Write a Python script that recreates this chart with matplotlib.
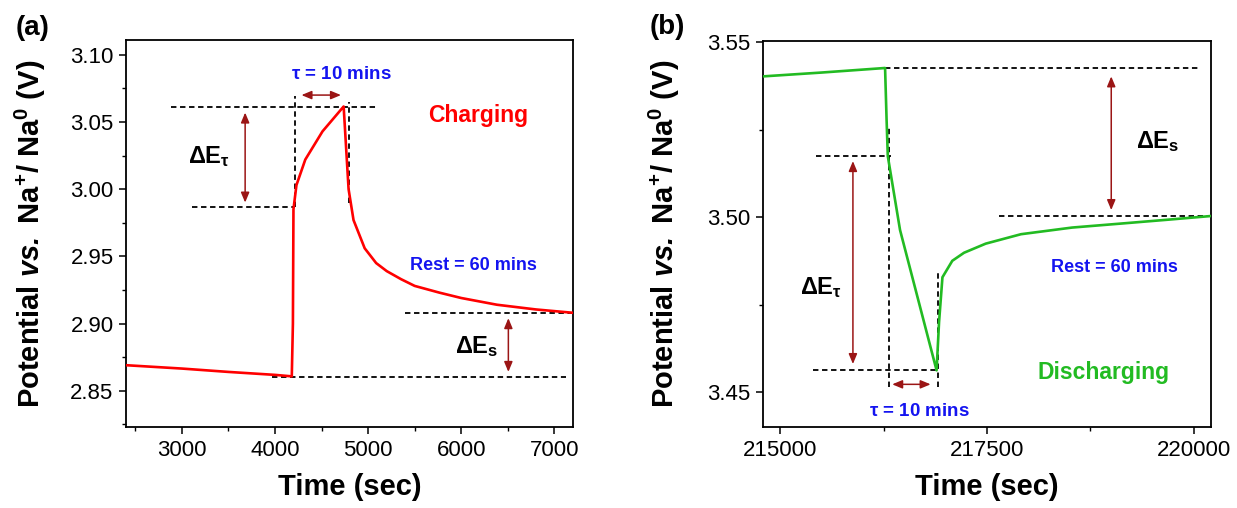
import matplotlib
matplotlib.use("Agg")
import matplotlib.pyplot as plt
from matplotlib.ticker import MultipleLocator, FormatStrFormatter

plt.rcParams['font.family'] = ['Liberation Sans', 'DejaVu Sans']
plt.rcParams['mathtext.fontset'] = 'custom'
plt.rcParams['mathtext.rm'] = 'Liberation Sans:bold'
plt.rcParams['mathtext.bf'] = 'Liberation Sans:bold'
plt.rcParams['mathtext.it'] = 'Liberation Sans:bold:italic'
plt.rcParams['mathtext.bfit'] = 'Liberation Sans:bold:italic'
plt.rcParams['mathtext.default'] = 'bf'

# ---------------- data: panel (a) charging ----------------
a_time = [2400, 3000, 3500, 4000, 4180, 4192, 4198, 4230, 4325, 4510, 4737,
          4790, 4843, 4963, 5086, 5200, 5354, 5500, 5765, 6000, 6383, 6800, 7200]
a_volt = [2.869, 2.8665, 2.864, 2.8618, 2.8607, 2.900, 2.985, 3.003, 3.022, 3.043, 3.0615,
          3.000, 2.977, 2.956, 2.945, 2.939, 2.933, 2.928, 2.923, 2.919, 2.914, 2.9105, 2.908]

# guide lines (a): (x0, x1, y) horizontal ; (x, y0, y1) vertical
a_hlines = [(2885, 5107, 3.0615), (3111, 4200, 2.987), (5395, 7200, 2.908), (3963, 7123, 2.8605)]
a_vlines = [(4210, 2.987, 3.069), (4790, 2.990, 3.065)]
# arrows (a): (x0, y0, x1, y1)
a_arrows = [(3679, 3.057, 3679, 2.990), (4284, 3.070, 4708, 3.070), (6506, 2.904, 6506, 2.864)]

# ---------------- data: panel (b) discharging ----------------
b_time = [214790, 215500, 216267, 216285, 216300, 216448, 216890, 216920, 216961, 217080,
          217222, 217484, 217911, 218529, 219100, 219715, 220210]
b_volt = [3.5402, 3.5413, 3.5426, 3.528, 3.5174, 3.4963, 3.4562, 3.470, 3.4828, 3.4875,
          3.4898, 3.4924, 3.4951, 3.4970, 3.4981, 3.4993, 3.5003]

b_hlines = [(216267, 220070, 3.5426), (217645, 220210, 3.5003), (215436, 216343, 3.5174), (215400, 216890, 3.4564)]
b_vlines = [(216310, 3.4514, 3.526), (216904, 3.4514, 3.4842)]
b_arrows = [(215878, 3.516, 215878, 3.458), (216353, 3.4522, 216818, 3.4522), (219003, 3.5402, 219003, 3.502)]

RED = '#FF0000'
GREEN = '#22BB22'
BLUE = '#1414F0'
ARROW = '#9B1515'

fig = plt.figure(figsize=(12.37, 5.08), dpi=100)
axa = fig.add_axes([0.1019, 0.1594, 0.3613, 0.7619])
axb = fig.add_axes([0.6168, 0.1594, 0.3622, 0.7598])

ylab = r'Potential $\mathbfit{vs.}$ Na$^{+}$/ Na$^{0}$ (V)'


def style(ax):
    for s in ax.spines.values():
        s.set_linewidth(1.3)
    ax.tick_params(which='major', direction='out', length=5, width=1.1, labelsize=16, pad=4)
    ax.tick_params(which='minor', direction='out', length=3, width=1.0)
    ax.set_xlabel('Time (sec)', fontsize=21, fontweight='bold', va='center')
    ax.set_ylabel(ylab, fontsize=21, fontweight='bold', va='center', ha='center')


def guides(ax, hl, vl, ar):
    for x0, x1, y in hl:
        ax.plot([x0, x1], [y, y], color='black', lw=1.3, ls=(0, (3, 2)), zorder=2)
    for x, y0, y1 in vl:
        ax.plot([x, x], [y0, y1], color='black', lw=1.3, ls=(0, (3, 2)), zorder=2)
    for x0, y0, x1, y1 in ar:
        ax.annotate('', xy=(x1, y1), xytext=(x0, y0),
                    arrowprops=dict(arrowstyle='<|-|>,head_length=0.6,head_width=0.25',
                                    color=ARROW, lw=1.1, shrinkA=0, shrinkB=0))


# ---- panel (a)
style(axa)
axa.plot(a_time, a_volt, color=RED, lw=1.9, zorder=3)
guides(axa, a_hlines, a_vlines, a_arrows)
axa.set_xlim(2400, 7200)
axa.set_ylim(2.823, 3.111)
axa.xaxis.set_major_locator(MultipleLocator(1000))
axa.xaxis.set_minor_locator(MultipleLocator(500))
axa.yaxis.set_major_locator(MultipleLocator(0.05))
axa.yaxis.set_minor_locator(MultipleLocator(0.025))
axa.yaxis.set_major_formatter(FormatStrFormatter('%.2f'))
axa.xaxis.set_label_coords(0.5, -0.155)
axa.yaxis.set_label_coords(-0.215, 0.5)
axa.text(4710, 3.085, r'$\tau$ = 10 mins', color=BLUE, fontsize=13.5, fontweight='bold', ha='center', va='center')
axa.text(6183, 3.0546, 'Charging', color=RED, fontsize=16.5, fontweight='bold', ha='center', va='center')
axa.text(6136, 2.943, 'Rest = 60 mins', color=BLUE, fontsize=13, fontweight='bold', ha='center', va='center')
axa.text(3296, 3.024, r'$\Delta E_{\tau}$', color='black', fontsize=17, ha='center', va='center')
axa.text(6168, 2.883, r'$\Delta E_{s}$', color='black', fontsize=17, ha='center', va='center')

# ---- panel (b)
style(axb)
axb.plot(b_time, b_volt, color=GREEN, lw=1.9, zorder=3)
guides(axb, b_hlines, b_vlines, b_arrows)
axb.set_xlim(214790, 220210)
axb.set_ylim(3.44, 3.5503)
axb.set_xticks([215000, 217500, 220000])
axb.xaxis.set_minor_locator(MultipleLocator(1250))
axb.yaxis.set_major_locator(MultipleLocator(0.05))
axb.yaxis.set_minor_locator(MultipleLocator(0.025))
axb.yaxis.set_major_formatter(FormatStrFormatter('%.2f'))
axb.xaxis.set_label_coords(0.5, -0.155)
axb.yaxis.set_label_coords(-0.219, 0.5)
axb.text(216676, 3.4445, r'$\tau$ = 10 mins', color=BLUE, fontsize=13.5, fontweight='bold', ha='center', va='center')
axb.text(218910, 3.4555, 'Discharging', color=GREEN, fontsize=16.5, fontweight='bold', ha='center', va='center')
axb.text(219036, 3.4856, 'Rest = 60 mins', color=BLUE, fontsize=13, fontweight='bold', ha='center', va='center')
axb.text(215488, 3.480, r'$\Delta E_{\tau}$', color='black', fontsize=17, ha='center', va='center')
axb.text(219568, 3.5217, r'$\Delta E_{s}$', color='black', fontsize=17, ha='center', va='center')

fig.text(33 / 1237, 1 - 28 / 508, '(a)', fontsize=20, fontweight='bold', ha='center', va='center')
fig.text(667 / 1237, 1 - 27 / 508, '(b)', fontsize=20, fontweight='bold', ha='center', va='center')

fig.savefig('out.png', dpi=100)
